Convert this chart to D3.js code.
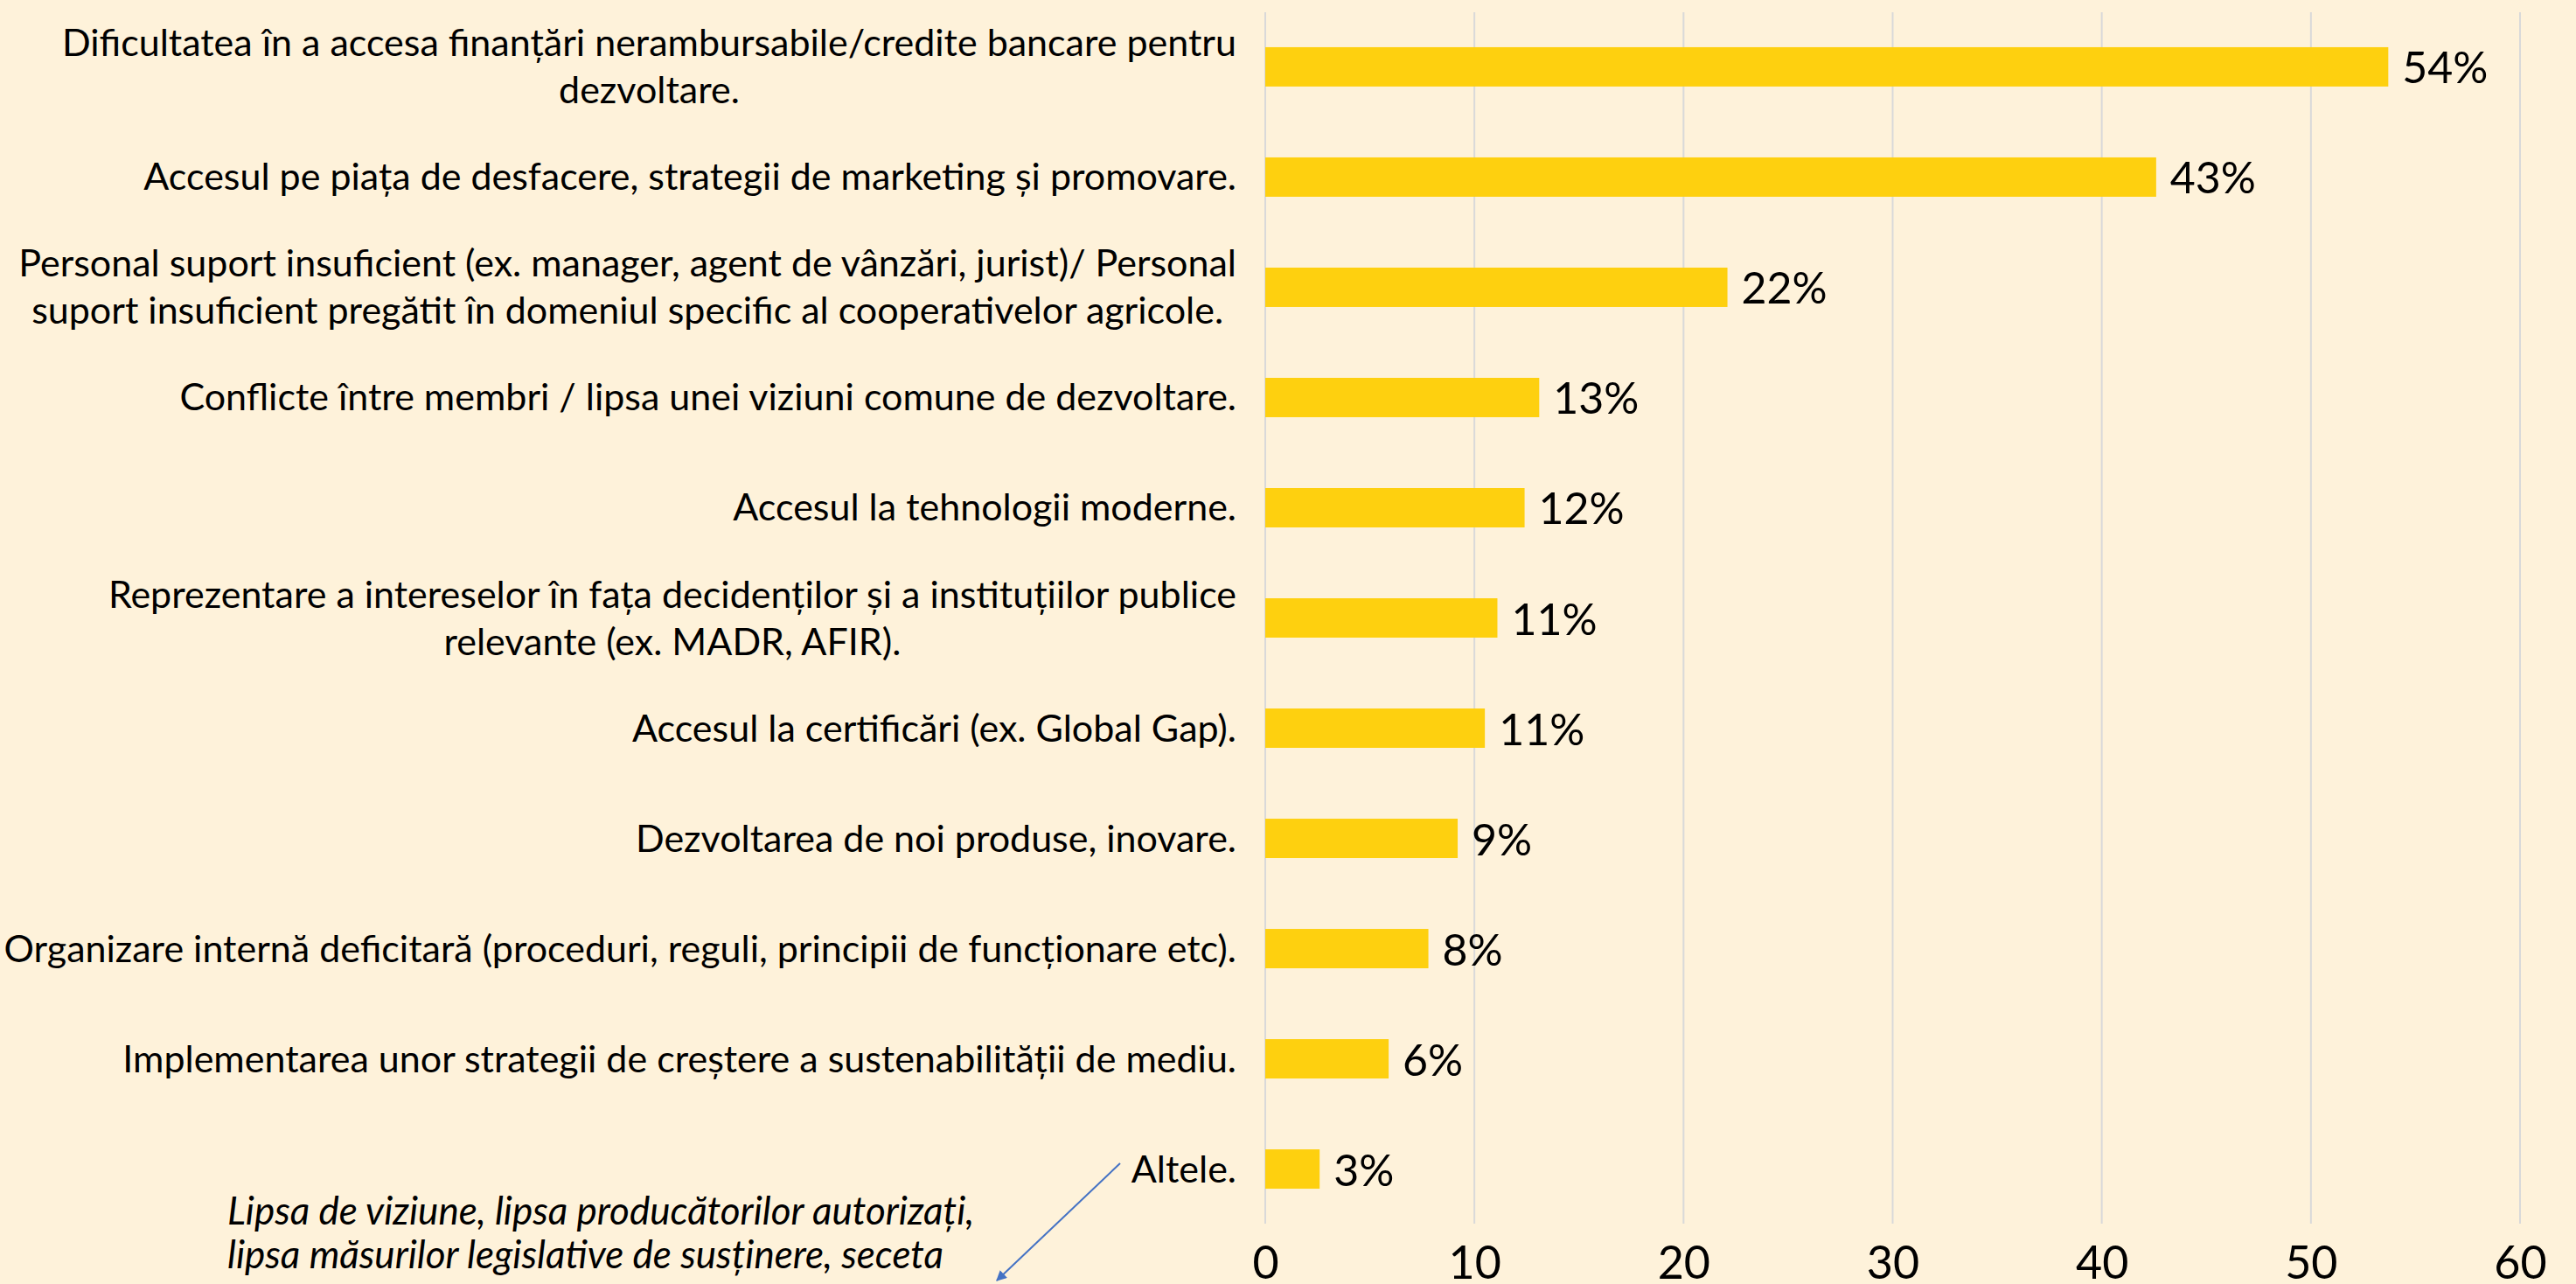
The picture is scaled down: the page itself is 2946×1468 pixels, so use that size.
<!DOCTYPE html>
<html>
<head>
<meta charset="utf-8"/>
<title>Provocari cooperative</title>
<script src="https://d3js.org/d3.v7.min.js"></script>
<style>
    body { margin: 0; background: #fef2da; }
    svg { display: block; background: #fef2da; }
    text { font-family: Lato, "Open Sans", sans-serif; fill: #000; }
</style>
</head>
<body>
<svg class="main" width="2946" height="1468"></svg>
<script>
    // categorii (liniile sunt rupte ca in original)
    var categories = [
        ["Dificultatea în a accesa finanțări nerambursabile/credite bancare pentru", "dezvoltare."],
        ["Accesul pe piața de desfacere, strategii de marketing și promovare."],
        ["Personal suport insuficient (ex. manager, agent de vânzări, jurist)/ Personal", "suport insuficient pregătit în domeniul specific al cooperativelor agricole."],
        ["Conflicte între membri / lipsa unei viziuni comune de dezvoltare."],
        ["Accesul la tehnologii moderne."],
        ["Reprezentare a intereselor în fața decidenților și a instituțiilor publice", "relevante (ex. MADR, AFIR)."],
        ["Accesul la certificări (ex. Global Gap)."],
        ["Dezvoltarea de noi produse, inovare."],
        ["Organizare internă deficitară (proceduri, reguli, principii de funcționare etc)."],
        ["Implementarea unor strategii de creștere a sustenabilității de mediu."],
        ["Altele."]
    ];
    var values = [53.7, 42.6, 22.1, 13.1, 12.4, 11.1, 10.5, 9.2, 7.8, 5.9, 2.6];
    var valueLabels = ["54%", "43%", "22%", "13%", "12%", "11%", "11%", "9%", "8%", "6%", "3%"];
    var xTicks = [0, 10, 20, 30, 40, 50, 60];
    var noteLines = ["Lipsa de viziune, lipsa producătorilor autorizați,", "lipsa măsurilor legislative de susținere, seceta"];

    var svg = d3.select("svg.main");
    var plotLeft = 1447, plotRight = 2882, plotTop = 14, plotBottom = 1399;

    var x = d3.scaleLinear().domain([0, 60]).range([plotLeft, plotRight]);
    var y = d3.scaleBand()
        .domain(d3.range(categories.length))
        .range([plotTop, plotBottom])
        .paddingInner(0.643)
        .paddingOuter(0.317);

    // grid
    svg.append("g").selectAll("line")
        .data(xTicks)
        .enter().append("line")
        .attr("x1", function (d) { return x(d) })
        .attr("x2", function (d) { return x(d) })
        .attr("y1", plotTop)
        .attr("y2", plotBottom)
        .attr("stroke", "#d9d9d9")
        .attr("stroke-width", 2);

    // axa
    var axis = svg.append("g")
        .attr("transform", "translate(0," + plotBottom + ")")
        .call(d3.axisBottom(x).tickValues(xTicks).tickSize(0).tickPadding(26));
    axis.select(".domain").remove();
    axis.selectAll("text")
        .style("font-family", "Lato, sans-serif")
        .attr("font-size", 52)
        .attr("fill", "#000");

    // bare
    svg.append("g").selectAll("rect")
        .data(values)
        .enter().append("rect")
        .attr("x", x(0))
        .attr("y", function (d, i) { return y(i) })
        .attr("width", function (d) { return x(d) - x(0) })
        .attr("height", y.bandwidth())
        .attr("fill", "#fed00f");

    // etichete valori
    svg.append("g").selectAll("text")
        .data(values)
        .enter().append("text")
        .attr("x", function (d) { return x(d) + 16 })
        .attr("y", function (d, i) { return y(i) + y.bandwidth() / 2 + 19 })
        .attr("font-size", 50)
        .text(function (d, i) { return valueLabels[i] });

    // etichete categorii
    var labelRight = 1414, lineH = 54;
    svg.append("g").selectAll("g")
        .data(categories)
        .enter().append("g")
        .each(function (lines, i) {
            var g = d3.select(this);
            var t = g.append("text").attr("font-size", 43).attr("text-anchor", "middle");
            t.selectAll("tspan").data(lines).enter().append("tspan")
                .attr("x", 0)
                .attr("y", function (l, k) { return (k - (lines.length - 1) / 2) * lineH + 15 })
                .text(function (l) { return l });
            var w = 0;
            t.selectAll("tspan").each(function () { w = Math.max(w, this.getComputedTextLength()) });
            g.attr("transform", "translate(" + (labelRight - w / 2) + "," + (y(i) + y.bandwidth() / 2) + ")");
        });

    // nota
    svg.append("text")
        .attr("font-size", 44)
        .attr("font-style", "italic")
        .selectAll("tspan").data(noteLines).enter().append("tspan")
        .attr("x", 260)
        .attr("y", function (d, i) { return 1400 + i * 50 })
        .text(function (d) { return d });

    svg.append("defs").append("marker")
        .attr("id", "arr")
        .attr("viewBox", "0 0 10 10")
        .attr("refX", 9).attr("refY", 5)
        .attr("markerWidth", 6).attr("markerHeight", 6)
        .attr("orient", "auto")
        .append("path").attr("d", "M0,0L10,5L0,10z").attr("fill", "#4472c4");
    svg.append("line")
        .attr("x1", 1281).attr("y1", 1330)
        .attr("x2", 1140).attr("y2", 1464)
        .attr("stroke", "#4472c4")
        .attr("stroke-width", 2)
        .attr("marker-end", "url(#arr)");
</script>
</body>
</html>
